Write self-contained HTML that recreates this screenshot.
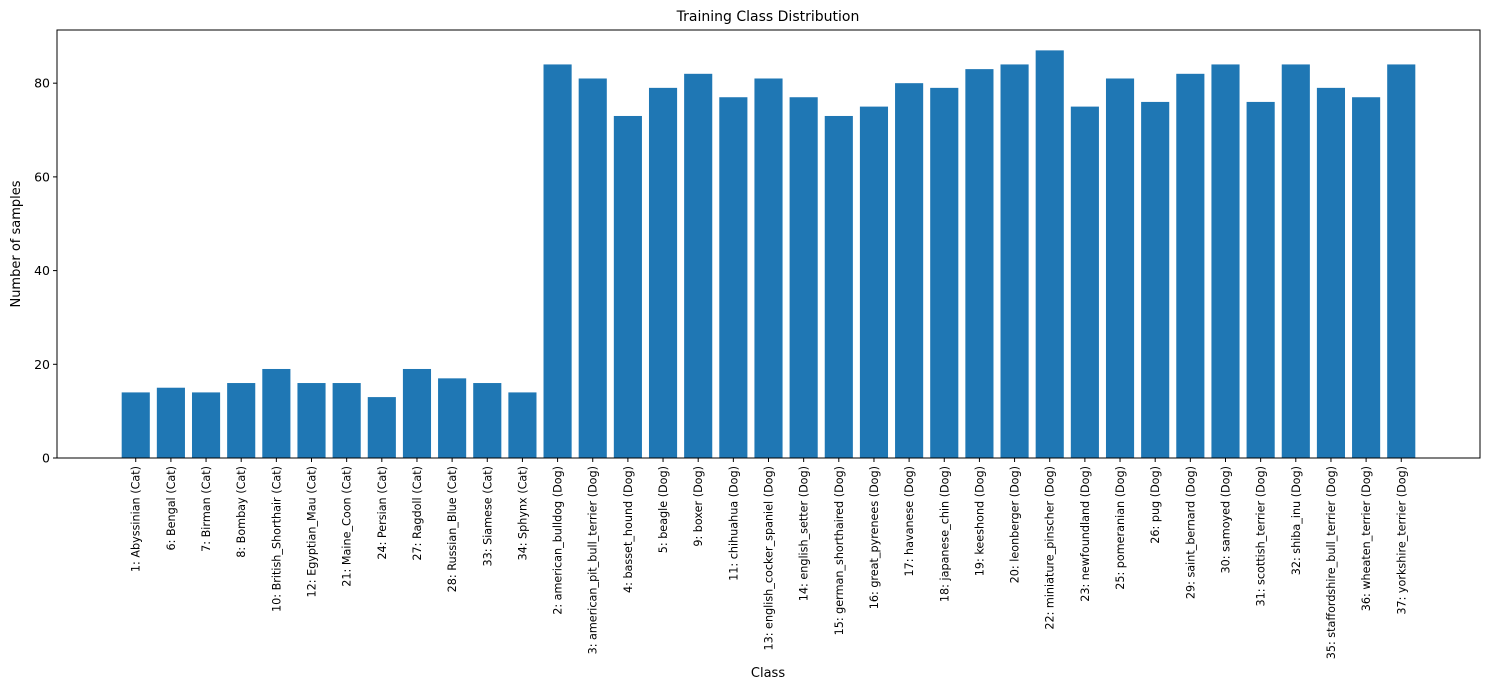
<!DOCTYPE html>
<html><head><meta charset="utf-8"><style>
html,body{margin:0;padding:0;background:#fff;}
svg text{font-family:"DejaVu Sans","Liberation Sans",sans-serif;fill:#000;}
</style></head><body>
<svg id="chart" width="1489" height="690" xmlns="http://www.w3.org/2000/svg">
<text x="768" y="21" font-size="14" text-anchor="middle">Training Class Distribution</text>
<text x="768" y="677" font-size="13" text-anchor="middle">Class</text>
<text transform="translate(20,244) rotate(-90)" font-size="13" text-anchor="middle">Number of samples</text>
<g id="bars"></g><g id="xt"></g><g id="yt"></g>
<rect x="57" y="30" width="1423" height="428" fill="none" stroke="#000" stroke-width="1"/>
</svg>
<script>
const categories=["1: Abyssinian (Cat)","6: Bengal (Cat)","7: Birman (Cat)","8: Bombay (Cat)","10: British_Shorthair (Cat)","12: Egyptian_Mau (Cat)","21: Maine_Coon (Cat)","24: Persian (Cat)","27: Ragdoll (Cat)","28: Russian_Blue (Cat)","33: Siamese (Cat)","34: Sphynx (Cat)","2: american_bulldog (Dog)","3: american_pit_bull_terrier (Dog)","4: basset_hound (Dog)","5: beagle (Dog)","9: boxer (Dog)","11: chihuahua (Dog)","13: english_cocker_spaniel (Dog)","14: english_setter (Dog)","15: german_shorthaired (Dog)","16: great_pyrenees (Dog)","17: havanese (Dog)","18: japanese_chin (Dog)","19: keeshond (Dog)","20: leonberger (Dog)","22: miniature_pinscher (Dog)","23: newfoundland (Dog)","25: pomeranian (Dog)","26: pug (Dog)","29: saint_bernard (Dog)","30: samoyed (Dog)","31: scottish_terrier (Dog)","32: shiba_inu (Dog)","35: staffordshire_bull_terrier (Dog)","36: wheaten_terrier (Dog)","37: yorkshire_terrier (Dog)"];
const counts=[14,15,14,16,19,16,16,13,19,17,16,14,84,81,73,79,82,77,81,77,73,75,80,79,83,84,87,75,81,76,82,84,76,84,79,77,84];
const yTicks=[0,20,40,60,80];
const NS="http://www.w3.org/2000/svg";
const L=57,R=1480,T=30,B=458;
const n=categories.length;
const xmin=-0.4-0.05*(n-1+0.8), xmax=n-1+0.4+0.05*(n-1+0.8);
const ymax=Math.max(...counts)*1.05;
const xs=i=>L+(i-xmin)/(xmax-xmin)*(R-L);
const ys=v=>B-v/ymax*(B-T);
const bw=0.8*(R-L)/(xmax-xmin);
function mk(t,a,p){const e=document.createElementNS(NS,t);for(const k in a)e.setAttribute(k,a[k]);p.appendChild(e);return e;}
const gb=document.getElementById('bars'),gx=document.getElementById('xt'),gy=document.getElementById('yt');
counts.forEach((v,i)=>{
 const r=mk('rect',{x:xs(i)-bw/2,y:ys(v),width:bw,height:ys(0)-ys(v),fill:'#1f77b4'},gb);
 
 
 const tk=mk('line',{x1:xs(i),x2:xs(i),y1:B,y2:B+4,stroke:'#000'},gx);
 
 
 const t=mk('text',{transform:`translate(${xs(i)+4},${B+8}) rotate(-90)`,'font-size':'11.2','text-anchor':'end'},gx);
 t.textContent=categories[i];
 
 
});
yTicks.forEach(v=>{
 const tk=mk('line',{x1:L-4,x2:L,y1:ys(v),y2:ys(v),stroke:'#000'},gy);
 
 
 const t=mk('text',{x:L-7,y:ys(v)+4.5,'font-size':'12.5','text-anchor':'end'},gy);
 t.textContent=v;
 
 
});
</script>
</body></html>
